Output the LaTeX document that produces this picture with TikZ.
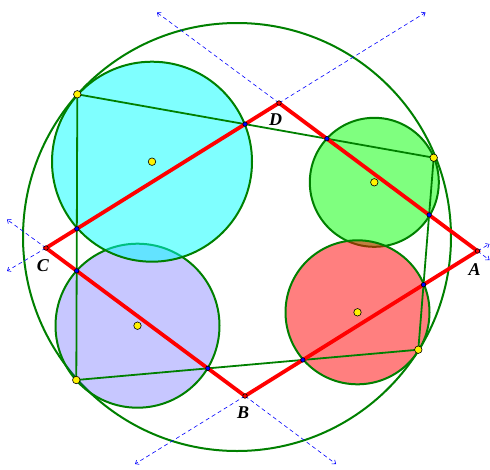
\documentclass[tikz,border=0pt]{standalone}
\usepackage{fontspec}
\setmainfont{Liberation Serif}
\usetikzlibrary{calc,arrows.meta}
\definecolor{vertfonce}{RGB}{0,128,0}
\definecolor{cyanpur}{RGB}{0,255,255}
\definecolor{vertpur}{RGB}{0,255,0}
\definecolor{rougepur}{RGB}{255,0,0}
\definecolor{bleupur}{RGB}{0,0,255}
\begin{document}
\begin{tikzpicture}[x=1pt,y=-1pt,
    cercle/.style={draw=vertfonce,line width=2pt},
    corde/.style={draw=vertfonce,line width=1.8pt},
    cote/.style={draw=rougepur,line width=3.8pt,line join=miter},
    prolong/.style={draw=bleupur,line width=0.6pt,dash pattern=on 4pt off 3pt,-{Straight Barb[length=3pt,width=5pt]}},
    jaune/.style={circle,draw=black,fill=yellow,inner sep=0pt,minimum size=7.5pt,line width=0.6pt},
    sommet/.style={circle,draw=black,fill=rougepur,inner sep=0pt,minimum size=4.5pt,line width=0.6pt},
    inter/.style={circle,draw=black,fill=bleupur,inner sep=0pt,minimum size=4.5pt,line width=0.6pt},
    lettre/.style={font=\fontsize{18}{18}\selectfont\bfseries\itshape}]
    \useasboundingbox (0,0) rectangle (490,469);
    % sommets du quadrilatere
    \coordinate (A) at (477.5,251);
    \coordinate (B) at (245,396);
    \coordinate (C) at (46,248);
    \coordinate (D) at (279,103);
    % points sur le grand cercle
    \coordinate (P1) at (77.3,94.3);
    \coordinate (P2) at (433.7,157.7);
    \coordinate (P3) at (418.3,349.7);
    \coordinate (P4) at (76.3,380);
    % centres
    \coordinate (O) at (237,237);
    \coordinate (O1) at (152,161.7);
    \coordinate (O2) at (374.3,182.3);
    \coordinate (O3) at (357.5,312.3);
    \coordinate (O4) at (137.5,325.7);
    % bouts des prolongements
    \coordinate (dD1) at (157,12.5);
    \coordinate (dD2) at (425.5,12.5);
    \coordinate (dC1) at (7,219.5);
    \coordinate (dC2) at (7,271);
    \coordinate (dA1) at (489.5,244);
    \coordinate (dA2) at (489.5,260);
    \coordinate (dB1) at (135,464);
    \coordinate (dB2) at (336,464);
    % intersections
    \coordinate (I1) at (intersection of P1--P2 and C--D);
    \coordinate (I2) at (intersection of P1--P2 and D--A);
    \coordinate (I3) at (intersection of P2--P3 and D--A);
    \coordinate (I4) at (intersection of P2--P3 and A--B);
    \coordinate (I5) at (intersection of P3--P4 and A--B);
    \coordinate (I6) at (intersection of P3--P4 and B--C);
    \coordinate (I7) at (intersection of P4--P1 and B--C);
    \coordinate (I8) at (intersection of P4--P1 and C--D);

    \draw[cercle] (O) circle (214);
    \fill[bleupur,opacity=0.22] (O4) circle (82);
    \draw[cercle] (O4) circle (82);
    \fill[cyanpur,opacity=0.5] (O1) circle (100);
    \draw[cercle] (O1) circle (100);
    \fill[vertpur,opacity=0.5] (O2) circle (64.5);
    \draw[cercle] (O2) circle (64.5);
    \fill[rougepur,opacity=0.5] (O3) circle (72);
    \draw[cercle] (O3) circle (72);

    \draw[corde] (P1) -- (P2) -- (P3) -- (P4) -- cycle;
    \draw[cote] (A) -- (B) -- (C) -- (D) -- cycle;

    \draw[prolong] (D) -- (dD1);
    \draw[prolong] (D) -- (dD2);
    \draw[prolong] (C) -- (dC1);
    \draw[prolong] (C) -- (dC2);
    \draw[prolong] (A) -- (dA1);
    \draw[prolong] (A) -- (dA2);
    \draw[prolong] (B) -- (dB1);
    \draw[prolong] (B) -- (dB2);

    \foreach \i in {1,...,8}
        \node[inter] at (I\i) {};
    \foreach \s in {A,B,C,D}
        \node[sommet] at (\s) {};
    \foreach \p in {P1,P2,P3,P4,O1,O2,O3,O4}
        \node[jaune] at (\p) {};

    \node[lettre] (lA) at (474.5,269.5) {A};
    \node[lettre] (lB) at (243,413) {B};
    \node[lettre] (lC) at (43,265.5) {C};
    \node[lettre] (lD) at (275.5,119.5) {D};
\end{tikzpicture}
\end{document}
